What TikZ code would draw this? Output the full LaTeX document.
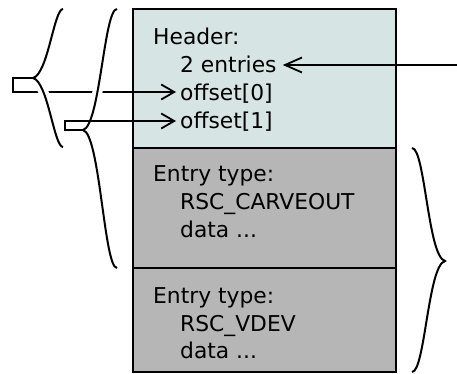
\documentclass[tikz,border=0pt]{standalone}
\usepackage{fontspec}
\setmainfont{DejaVu Sans}
\usetikzlibrary{arrows.meta}
\definecolor{hdrfill}{RGB}{214,228,228}
\definecolor{entfill}{RGB}{182,182,182}
\tikzset{
  txt/.style={anchor=base west, inner sep=0pt, font=\fontsize{21.8}{28}\selectfont},
  brace/.style={line width=2pt, black},
  halo/.style={line width=10pt, white},
  arrR/.style={line width=1.8pt, -{Straight Barb[length=13pt,width=15pt,line width=1.8pt]}, shorten >=4pt},
  arrL/.style={line width=1.8pt, -{Straight Barb[length=17pt,width=15pt,line width=1.8pt]}, shorten >=6pt},
  divider/.style={line width=1.5pt},
  border/.style={line width=2.5pt}
}
\begin{document}
\begin{tikzpicture}[x=1pt,y=-1pt]
\useasboundingbox (0,0) rectangle (457,374);
% box
\fill[hdrfill] (133,9) rectangle (396,148);
\fill[entfill] (133,148) rectangle (396,372);
\draw[divider] (133,148) -- (396,148);
\draw[divider] (133,268) -- (396,268);
\draw[border] (133,9) rectangle (396,372);
% texts
\node[txt] (hdr)  at (153,45)  {Header:};
\node[txt] (ent)  at (180,73)  {2 entries};
\node[txt] (off0) at (180,101) {offset[0]};
\node[txt] (off1) at (180,129) {offset[1]};
\node[txt] (et1)  at (153,181) {Entry type:};
\node[txt] (rc1)  at (180,209) {RSC\_CARVEOUT};
\node[txt] (dt1)  at (180,237) {data ...};
\node[txt] (et2)  at (153,303) {Entry type:};
\node[txt] (rc2)  at (180,331) {RSC\_VDEV};
\node[txt] (dt2)  at (180,358) {data ...};
% brace coordinates
\coordinate (b1tip) at (33,78);
\coordinate (b1a) at (13,78);
\coordinate (b1b) at (13,92);
\coordinate (b2tip) at (83,130);
\coordinate (b2a) at (65,130);
\coordinate (b2b) at (65,121);
\coordinate (rin) at (457,65);
% connectors
\draw[arrR] (b1tip) -- (b1a) -- (b1b) -- (off0.west |- b1b);
\draw[arrR] (b2tip) -- (b2a) -- (b2b) -- (off1.west |- b2b);
\draw[arrL] (rin) -- (ent.east |- rin);
% halos where the offset[0] line crosses the braces
\begin{scope}
\clip (20,85) rectangle (125,99);
\draw[halo] (33,78) .. controls (48,82) and (54,147) .. (63,147);
\draw[halo] (117,9) .. controls (104,9) and (100,126) .. (83,130);
\end{scope}
% braces
\draw[brace] (63,9) .. controls (54,9) and (48,74) .. (b1tip)
             .. controls (48,82) and (54,147) .. (63,147);
\draw[brace] (117,9) .. controls (104,9) and (100,126) .. (b2tip)
             .. controls (100,134) and (104,268) .. (117,268);
\draw[brace] (412,148) .. controls (425,148) and (428,257) .. (445,261)
             .. controls (428,265) and (425,372) .. (412,372);
\end{tikzpicture}
\end{document}
